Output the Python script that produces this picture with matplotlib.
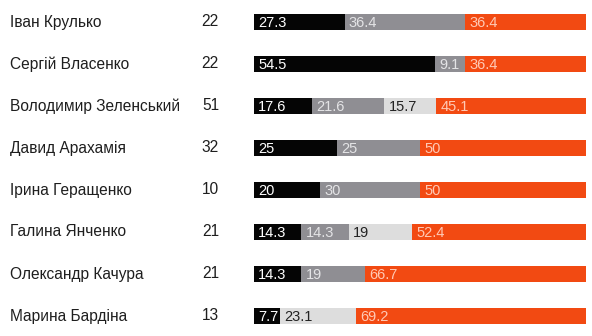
import numpy as np
import matplotlib
matplotlib.use('Agg')
import matplotlib.pyplot as plt
import matplotlib.transforms as mtransforms

plt.rcParams['font.family'] = ['Liberation Sans', 'DejaVu Sans']

# дані
names = ['Іван Крулько', 'Сергій Власенко', 'Володимир Зеленський', 'Давид Арахамія',
         'Ірина Геращенко', 'Галина Янченко', 'Олександр Качура', 'Марина Бардіна']
counts = [22, 22, 51, 32, 10, 21, 21, 13]
black_part = [27.3, 54.5, 17.6, 25, 20, 14.3, 14.3, 7.7]
gray_part = [36.4, 9.1, 21.6, 25, 30, 14.3, 19, 0]
light_part = [0, 0, 15.7, 0, 0, 19, 0, 23.1]
orange_part = [36.4, 36.4, 45.1, 50, 50, 52.4, 66.7, 69.2]

segments = [black_part, gray_part, light_part, orange_part]
colors = ['#050505', '#8f8e93', '#dddddd', '#f24a12']
text_colors = ['white', '#e4e4e6', '#222222', '#ffc9b5']

W, H = 592, 336
fig = plt.figure(figsize=(W / 100, H / 100), dpi=100)
ax = fig.add_axes([254 / W, 0, 332 / W, 1])

y = np.arange(len(names))
left = np.zeros(len(names))
for seg, col, tcol in zip(segments, colors, text_colors):
    seg = np.array(seg)
    ax.barh(y, seg, left=left, height=0.38, color=col, linewidth=0)
    for i in range(len(names)):
        if seg[i] > 0:
            ax.text(left[i] + 1.3, y[i] + 0.02, f'{seg[i]:g}', color=tcol,
                    fontsize=10.5, va='center', ha='left')
    left = left + seg

ax.set_xlim(0, 100)
ax.set_ylim(7 + 20 / 42, -22 / 42)
ax.axis('off')

tr = mtransforms.blended_transform_factory(fig.transFigure, ax.transData)
for i in range(len(names)):
    fig.text(10 / W, y[i], names[i], transform=tr, fontsize=11.2, color='#1e1e1e',
             va='center', ha='left')
    fig.text(219 / W, y[i], str(counts[i]), transform=tr, fontsize=11.2, color='#1e1e1e',
             va='center', ha='right')

fig.savefig('out.png', dpi=100, facecolor='white')
